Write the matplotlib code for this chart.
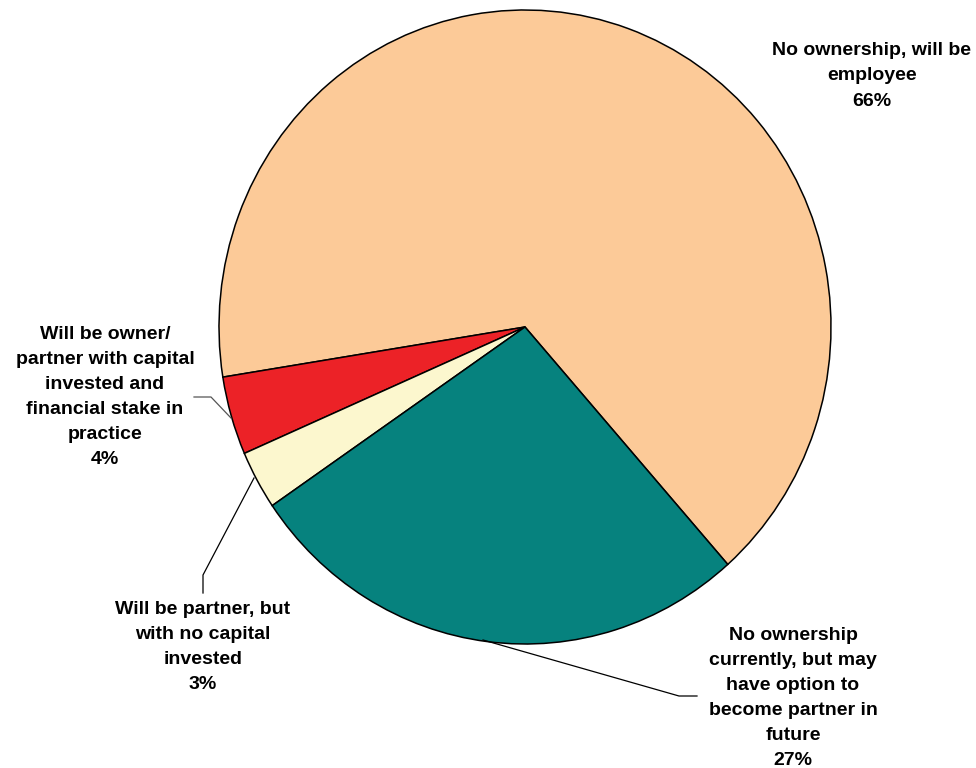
import matplotlib
matplotlib.use("Agg")
import matplotlib.pyplot as plt

# Ownership expectations
labels = [
    "No ownership, will be\nemployee",
    "Will be owner/\npartner with capital\ninvested and\nfinancial stake in\npractice",
    "Will be partner, but\nwith no capital\ninvested",
    "No ownership\ncurrently, but may\nhave option to\nbecome partner in\nfuture",
]
shares = [66, 4, 3, 27]
colors = ["#FCCA98", "#EC2227", "#FCF7CE", "#06827E"]

W, H = 976, 768
CX, CY = 525, 327      # pie centre in pixels
RX, RY = 306, 317      # pie radii in pixels


def px(x, y):
    # pixel position -> pie data coordinates
    return (x - CX) / RX, (CY - y) / RY


fig = plt.figure(figsize=(W / 100, H / 100), dpi=100)
ax = fig.add_axes([0, 0, 1, 1])

wedges, _ = ax.pie(shares, colors=colors, startangle=-48.5, radius=1.0,
                   wedgeprops=dict(edgecolor="black", linewidth=1.1))
ax.set_aspect("auto")
ax.set_xlim(px(0, 0)[0], px(W, 0)[0])
ax.set_ylim(px(0, H)[1], px(0, 0)[1])
ax.axis("off")

font = dict(family="Liberation Sans", fontsize=14, fontweight="bold",
            ha="center", va="center", linespacing=1.62, color="black")

# label block centres (pixels)
label_pos = [(872, 76), (105, 397), (203, 647), (793, 698)]
for lab, val, (lx, ly) in zip(labels, shares, label_pos):
    ax.text(*px(lx, ly), f"{lab}\n{val}%", **font)

# leader lines (pixels)
leaders = [
    ([(194, 397), (211, 397), (231, 418)], "#555555"),
    ([(203, 593), (203, 575), (254, 478)], "black"),
    ([(697, 696), (679, 696), (483, 640)], "black"),
]
for pts, c in leaders:
    xs, ys = zip(*[px(x, y) for x, y in pts])
    ax.plot(xs, ys, color=c, linewidth=0.9)

fig.savefig("out.png", dpi=100)
